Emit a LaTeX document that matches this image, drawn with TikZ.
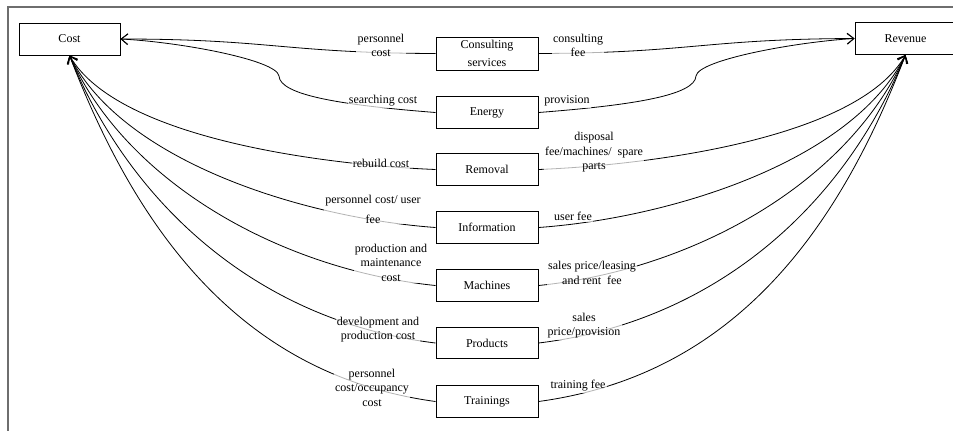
\documentclass[tikz,border=0pt]{standalone}
\usepackage{fontspec}
\setmainfont{Liberation Serif}
\usetikzlibrary{arrows.meta}
\tikzset{every picture/.style={line width=0.75pt}}
\tikzset{
  block/.style={draw, minimum width=76.5pt, minimum height=23.6pt, inner sep=0.75pt, align=center, font=\fontsize{9}{11}\selectfont},
  flow/.style={line width=0.6pt, -{Straight Barb[length=5pt,width=8pt]}},
  flowlbl/.style={fill=white, fill opacity=0.7, text opacity=1, inner sep=1pt, align=center, font=\fontsize{9}{10.9}\selectfont},
}

\begin{document}
\begin{tikzpicture}[x=0.75pt,y=0.75pt,yscale=-1,xscale=1]
\useasboundingbox (0,0) rectangle (953,430);

%Shape: Frame
\draw [color={rgb, 255:red, 110; green, 110; blue, 110 }, line width=1.1pt] (8,432) -- (8,7) -- (955,7) ;

%Shape: Rectangle
\node [block, minimum width=75.75pt, minimum height=24pt] (cost) at (69.5,39) {Cost};
\node [block, minimum width=75.75pt, minimum height=24pt] (revenue) at (905.5,38.5) {Revenue};
\node [block, minimum height=24.75pt] (consult) at (487,53.5) {Consulting\\[2pt]services};
\node [block] (energy) at (487,112.5) {Energy};
\node [block] (removal) at (487,169.5) {Removal};
\node [block] (info) at (487,227.5) {Information};
\node [block] (machines) at (487,285.5) {Machines};
\node [block] (products) at (487,343) {Products};
\node [block] (trainings) at (487,401.5) {Trainings};

%Curve Lines (to Cost)
\draw [flow] (consult.west) .. controls (285,53) and (270,39) .. (cost.east) ;
\draw [flow] (energy.west) .. controls (340,105) and (280,95) .. (279,76) .. controls (277,60) and (180,42) .. (cost.east) ;
\draw [flow] (removal.west) .. controls (326,165) and (118,139) .. (cost.south) ;
\draw [flow] (info.west) .. controls (305,218) and (123,162) .. (cost.south) ;
\draw [flow] (machines.west) .. controls (284,270) and (128,185) .. (cost.south) ;
\draw [flow] (products.west) .. controls (262,322) and (132,208) .. (cost.south) ;
\draw [flow] (trainings.west) .. controls (241,375) and (137,231) .. (cost.south) ;

%Curve Lines (to Revenue)
\draw [flow] (consult.east) .. controls (690,53) and (705,39) .. (revenue.west) ;
\draw [flow] (energy.east) .. controls (635,105) and (695,95) .. (696,76) .. controls (698,60) and (795,42) .. (revenue.west) ;
\draw [flow] (removal.east) .. controls (649,165) and (857,139) .. (revenue.south) ;
\draw [flow] (info.east) .. controls (670,218) and (852,162) .. (revenue.south) ;
\draw [flow] (machines.east) .. controls (691,270) and (847,185) .. (revenue.south) ;
\draw [flow] (products.east) .. controls (713,322) and (843,208) .. (revenue.south) ;
\draw [flow] (trainings.east) .. controls (734,375) and (838,231) .. (revenue.south) ;

% Text Node
\node [flowlbl] (lcons) at (381,45.5) {personnel\\cost};
% Text Node
\node [flowlbl] (lener) at (383,101) {searching cost};
% Text Node
\node [flowlbl] (lrem) at (381,163) {rebuild cost};
% Text Node
\node [flowlbl] (linfo) at (373,209) {personnel cost/ user\\[4pt]fee};
% Text Node
\node [flowlbl] (lmach) at (391,262.5) {production and\\maintenance\\cost};
% Text Node
\node [flowlbl] (lprod) at (378,329.5) {development and\\production cost};
% Text Node
\node [flowlbl] (ltrain) at (372,387.5) {personnel\\cost/occupancy\\cost};
% Text Node
\node [flowlbl] (rcons) at (578,45.5) {consulting\\fee};
% Text Node
\node [flowlbl] (rener) at (567,101) {provision};
% Text Node
\node [flowlbl] (rrem) at (594,152.5) {disposal\\fee/machines/~ spare\\parts};
% Text Node
\node [flowlbl] (rinfo) at (573,216) {user fee};
% Text Node
\node [flowlbl] (rmach) at (592,273) {sales price/leasing\\and rent~ fee};
% Text Node
\node [flowlbl] (rprod) at (584,325.5) {sales\\price/provision};
% Text Node
\node [flowlbl] (rtrain) at (578,386) {training fee};

\end{tikzpicture}
\end{document}
